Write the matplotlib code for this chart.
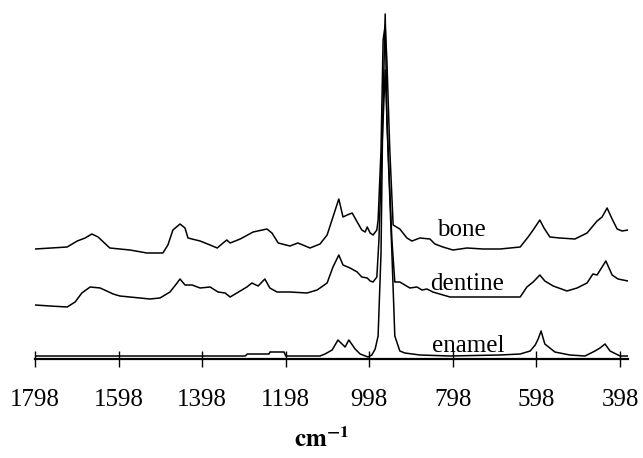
import matplotlib
matplotlib.use("Agg")
import matplotlib.pyplot as plt

plt.rcParams['font.family'] = ['Liberation Serif', 'DejaVu Serif']
plt.rcParams['mathtext.fontset'] = 'stix'

# Raman shift (cm-1) and relative intensity for each tissue
bone_w = [1798, 1721, 1697, 1678, 1662, 1647, 1619, 1595, 1571, 1530, 1492, 1480, 1468, 1451,
          1439, 1432, 1403, 1379, 1362, 1348, 1339, 1331, 1307, 1276, 1243, 1231, 1216, 1188,
          1169, 1157, 1140, 1116, 1099, 1085, 1071, 1061, 1051, 1039, 1027, 1016, 1008, 1003,
          996, 989, 980, 977, 970, 965, 960, 956, 949, 941, 925, 908, 896, 877, 853, 841, 822,
          798, 764, 726, 685, 637, 618, 606, 590, 580, 566, 542, 506, 477, 453, 441, 429, 417,
          405, 393, 379]
bone_i = [110, 112, 118, 121, 125, 122, 111, 110, 109, 106, 106, 114, 129, 135,
          131, 121, 118, 114, 111, 116, 119, 116, 120, 127, 130, 126, 116, 113,
          116, 114, 111, 115, 124, 142, 160, 142, 144, 146, 137, 129, 127, 132,
          126, 124, 129, 139, 209, 319, 334, 299, 209, 134, 130, 121, 118, 121, 120, 115, 112,
          109, 111, 110, 110, 112, 122, 129, 139, 131, 122, 121, 120, 126, 138, 142, 151, 140,
          130, 128, 129]

dentine_w = [1798, 1762, 1721, 1702, 1686, 1666, 1642, 1611, 1595, 1571, 1523, 1499, 1475, 1458,
             1451, 1439, 1422, 1403, 1379, 1360, 1343, 1331, 1315, 1291, 1279, 1264, 1248, 1236,
             1219, 1188, 1147, 1123, 1116, 1099, 1085, 1071, 1061, 1044, 1027, 1016, 1003, 996,
             989, 980, 975, 968, 960, 953, 944, 937, 925, 901, 884, 872, 860, 846, 805, 726, 637,
             621, 606, 590, 578, 558, 525, 501, 477, 463, 453, 432, 417, 403, 379]
dentine_i = [54, 53, 52, 57, 66, 72, 71, 65, 63, 62, 60, 61, 67, 76,
             80, 74, 74, 71, 72, 67, 66, 62, 66, 72, 76, 73, 80, 71,
             67, 67, 66, 69, 71, 76, 92, 104, 94, 91, 87, 82, 81, 78,
             77, 82, 119, 209, 289, 209, 119, 77, 77, 71, 72, 69, 70, 67, 62, 62, 62,
             72, 77, 84, 78, 73, 68, 71, 76, 85, 84, 98, 84, 80, 78]

enamel_w = [1798, 1403, 1295, 1290, 1238, 1236, 1202, 1198, 1116, 1104, 1087, 1073, 1056, 1047,
            1032, 1020, 1001, 992, 984, 977, 970, 966, 960, 956, 944, 937, 925, 913, 877, 805,
            685, 637, 613, 601, 594, 587, 578, 554, 518, 482, 458, 446, 434, 422, 398, 379]
enamel_i = [3, 3, 3, 5, 5, 7, 7, 3, 3, 5, 9, 19, 12, 19,
            10, 5, 2, 4, 10, 23, 106, 239, 345, 239, 106, 23, 8, 6, 4, 3,
            4, 5, 8, 14, 20, 28, 15, 7, 4, 3, 8, 11, 15, 8, 3, 3]

tick_values = [1798, 1598, 1398, 1198, 998, 798, 598, 398]
series_labels = ['bone', 'dentine', 'enamel']

fig = plt.figure(figsize=(6.43, 4.58), dpi=100)
ax = fig.add_axes([35/643, (458-359)/458, (628-35)/643, 359/458])

for w, i in [(bone_w, bone_i), (dentine_w, dentine_i), (enamel_w, enamel_i)]:
    ax.plot(w, i, color='black', lw=1.1)

ax.set_xlim(1798, 379)
ax.set_ylim(0, 359)
for s in ['top', 'right', 'left']:
    ax.spines[s].set_visible(False)
ax.spines['bottom'].set_linewidth(1.6)
ax.set_yticks([])
ax.set_xticks(tick_values)
ax.set_xticklabels([str(t) for t in tick_values])
ax.tick_params(axis='x', direction='inout', length=11, width=1.0, pad=16, labelsize=18)

label_pos = [(836, 123), (853, 69), (848, 7)]
for name, (lx, ly) in zip(series_labels, label_pos):
    ax.text(lx, ly, name, fontsize=18, ha='left', va='baseline')

fig.text(322/643, 1 - 440/458, r'$\mathbf{cm}^{\mathbf{-1}}$', fontsize=18,
         ha='center', va='center')

fig.savefig('out.png', dpi=100)
